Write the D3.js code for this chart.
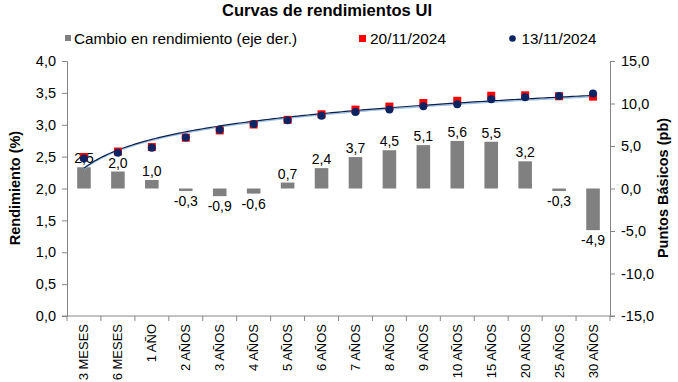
<!DOCTYPE html>
<html><head><meta charset="utf-8">
<script src="https://cdn.jsdelivr.net/npm/d3@7"></script>
<style>body{margin:0;background:#fff}svg{font-family:"Liberation Sans",Arial,sans-serif}</style>
</head><body><svg id="c" width="678" height="382"></svg>
<script>
const categories = ["3 MESES","6 MESES","1 AÑO","2 AÑOS","3 AÑOS","4 AÑOS","5 AÑOS","6 AÑOS","7 AÑOS","8 AÑOS","9 AÑOS","10 AÑOS","15 AÑOS","20 AÑOS","25 AÑOS","30 AÑOS"];
const changeBp = [2.5,2.0,1.0,-0.3,-0.9,-0.6,0.7,2.4,3.7,4.5,5.1,5.6,5.5,3.2,-0.3,-4.9];
const yield1311 = [2.47,2.56,2.64,2.80,2.92,3.01,3.07,3.14,3.20,3.24,3.29,3.32,3.40,3.43,3.45,3.49];
const yield2011 = [2.495,2.58,2.65,2.797,2.911,3.004,3.077,3.164,3.237,3.285,3.341,3.376,3.455,3.462,3.447,3.441];
const leftTicks = [0,0.5,1,1.5,2,2.5,3,3.5,4];
const rightTicks = [-15,-10,-5,0,5,10,15];

const svg = d3.select("#c");
const L=67,R=610,T=61,B=316;
const x = d3.scaleBand().domain(categories).range([L,R]).paddingInner(0.6).paddingOuter(0.3);
const xc = d => x(d)+x.bandwidth()/2;
const yL = d3.scaleLinear().domain([0,4]).range([B,T]);
const yR = d3.scaleLinear().domain([-15,15]).range([B,T]);
const fmt = d3.format(".1f");
const comma = v => fmt(v).replace(".",",").replace("\u2212","-");
const axisColor="#868686";

// title
svg.append("text").attr("x",222).attr("y",16).attr("font-weight","bold").attr("font-size",17)
  .attr("textLength",210).attr("lengthAdjust","spacingAndGlyphs").text("Curvas de rendimientos UI");

// legend
const lg = svg.append("g").attr("font-size",15.5);
lg.append("rect").attr("x",65).attr("y",35).attr("width",6).attr("height",6).attr("fill","#808080");
lg.append("text").attr("x",74).attr("y",43.5).attr("textLength",223).attr("lengthAdjust","spacingAndGlyphs").text("Cambio en rendimiento (eje der.)");
lg.append("rect").attr("x",359).attr("y",35).attr("width",7).attr("height",7).attr("fill","#ff0000");
lg.append("text").attr("x",370).attr("y",43.5).attr("textLength",76).attr("lengthAdjust","spacingAndGlyphs").text("20/11/2024");
lg.append("circle").attr("cx",512.5).attr("cy",38.5).attr("r",3.3).attr("fill","#0a2463");
lg.append("text").attr("x",521.5).attr("y",43.5).attr("textLength",75).attr("lengthAdjust","spacingAndGlyphs").text("13/11/2024");

// axes
const gl = svg.append("g").attr("transform",`translate(${L},0)`)
  .call(d3.axisLeft(yL).tickValues(leftTicks).tickFormat(comma).tickSize(5).tickPadding(6));
const gr = svg.append("g").attr("transform",`translate(${R},0)`)
  .call(d3.axisRight(yR).tickValues(rightTicks).tickFormat(comma).tickSize(5).tickPadding(6));
[gl,gr].forEach(g=>{g.select(".domain").attr("stroke",axisColor);g.selectAll(".tick line").attr("stroke",axisColor);
  g.selectAll("text").attr("font-size",14.5).attr("font-family","Liberation Sans, Arial, sans-serif").attr("fill","#000");});

// x axis
const gx = svg.append("g").attr("transform",`translate(0,${B})`);
gx.append("line").attr("x1",L-5).attr("x2",R+5).attr("stroke",axisColor);
d3.range(categories.length+1).forEach(i=>{
  const px = L + i*(R-L)/categories.length;
  gx.append("line").attr("x1",px).attr("x2",px).attr("y1",0).attr("y2",5).attr("stroke",axisColor);
});
gx.selectAll("text.cat").data(categories).join("text").attr("class","cat")
  .attr("transform",d=>`translate(${xc(d)+4.5},8) rotate(-90)`)
  .attr("text-anchor","end").attr("font-size",13).text(d=>d);

// axis titles
svg.append("text").attr("transform","translate(20,188) rotate(-90)").attr("text-anchor","middle").attr("font-weight","bold").attr("font-size",14.5).text("Rendimiento (%)");
svg.append("text").attr("transform","translate(668,188) rotate(-90)").attr("text-anchor","middle").attr("font-weight","bold").attr("font-size",14.5).text("Puntos Básicos (pb)");

// bars
svg.append("g").selectAll("rect").data(changeBp).join("rect")
  .attr("x",(d,i)=>x(categories[i])).attr("width",x.bandwidth())
  .attr("y",d=>yR(Math.max(0,d))).attr("height",d=>Math.abs(yR(d)-yR(0)))
  .attr("fill","#808080");
svg.append("g").selectAll("text").data(changeBp).join("text")
  .attr("x",(d,i)=>xc(categories[i])).attr("y",d=>d>=0?yR(d)-4:yR(d)+15)
  .attr("text-anchor","middle").attr("font-size",14).text(d=>comma(d));

// log trend lines
function logFit(vals){
  const xs = vals.map((v,i)=>Math.log(i+1));
  const mx=d3.mean(xs), my=d3.mean(vals);
  const b=d3.sum(xs,(xv,i)=>(xv-mx)*(vals[i]-my))/d3.sum(xs,xv=>(xv-mx)**2);
  const a=my-b*mx;
  return t=>a+b*Math.log(t);
}
const firstX=xc(categories[0]), lastX=xc(categories[categories.length-1]);
const tScale=d3.scaleLinear().domain([1,categories.length]).range([firstX,lastX]);
const ts=d3.range(1,categories.length+0.001,0.1);
const line=d3.line().x(d=>tScale(d[0])).y(d=>yL(d[1]));
const f1=logFit(yield1311), f2=logFit(yield2011);
svg.append("path").attr("d",line(ts.map(t=>[t,f1(t)]))).attr("fill","none").attr("stroke","#9dc3e6").attr("stroke-width",1.5);
svg.append("path").attr("d",line(ts.map(t=>[t,f2(t)]))).attr("fill","none").attr("stroke","#0b1f4a").attr("stroke-width",1.2);

// points
svg.append("g").selectAll("rect").data(yield2011).join("rect")
  .attr("x",(d,i)=>xc(categories[i])-4).attr("y",d=>yL(d)-4).attr("width",8).attr("height",8).attr("fill","#ff0000");
svg.append("g").selectAll("circle").data(yield1311).join("circle")
  .attr("cx",(d,i)=>xc(categories[i])).attr("cy",d=>yL(d)).attr("r",4).attr("fill","#0a2463");
</script></body></html>
